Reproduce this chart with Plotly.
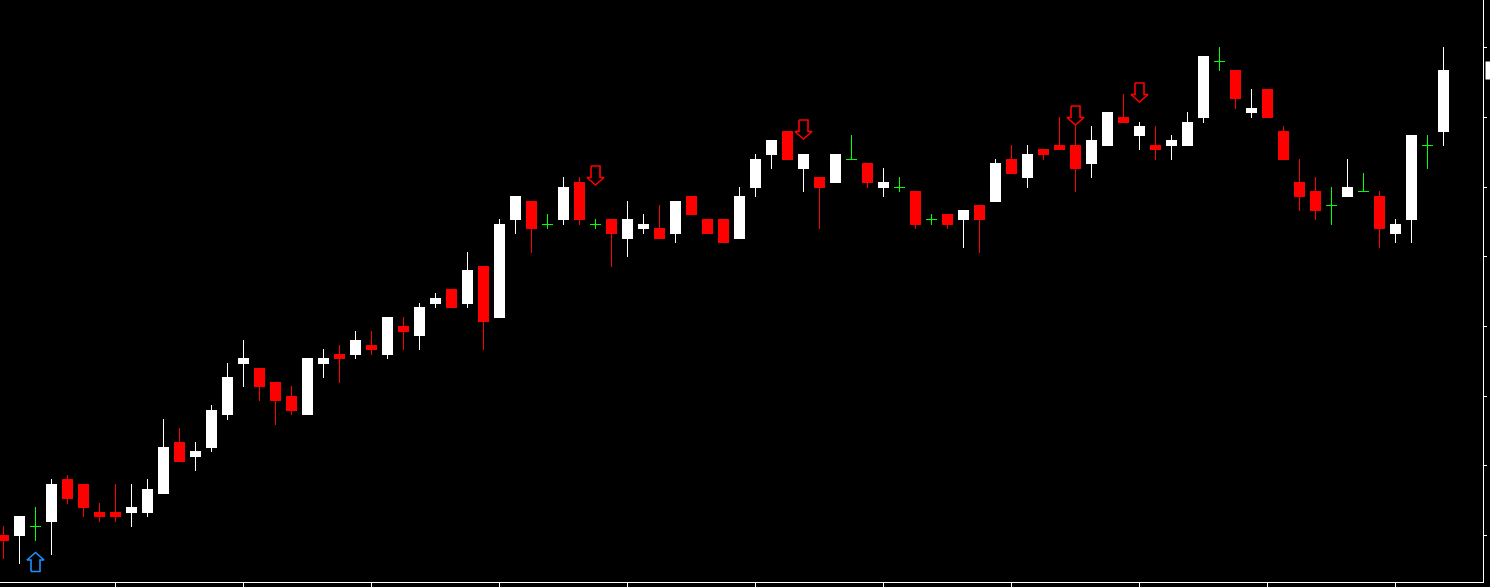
import plotly.graph_objects as go

# ---- data (OHLC per bar) ----
opens = [1.2047, 1.2046, 1.2056, 1.2060, 1.2103, 1.2098, 1.2070, 1.2070, 1.2069, 1.2069,
         1.2088, 1.2140, 1.2125, 1.2134, 1.2167, 1.2218, 1.2214, 1.2200, 1.2186, 1.2167,
         1.2218, 1.2228, 1.2227, 1.2237, 1.2227, 1.2256, 1.2246, 1.2278, 1.2293, 1.2278,
         1.2316, 1.2264, 1.2362, 1.2381, 1.2358, 1.2362, 1.2400, 1.2358, 1.2363, 1.2343,
         1.2353, 1.2354, 1.2348, 1.2386, 1.2363, 1.2363, 1.2343, 1.2394, 1.2427, 1.2451,
         1.2413, 1.2405, 1.2399, 1.2423, 1.2419, 1.2394, 1.2395, 1.2391, 1.2363, 1.2368,
         1.2362, 1.2377, 1.2380, 1.2423, 1.2404, 1.2433, 1.2437, 1.2437, 1.2418, 1.2436,
         1.2465, 1.2446, 1.2437, 1.2436, 1.2436, 1.2464, 1.2521, 1.2512, 1.2469, 1.2493,
         1.2451, 1.2400, 1.2391, 1.2377, 1.2385, 1.2391, 1.2386, 1.2348, 1.2362, 1.2437,
         1.2450]
highs = [1.2056, 1.2066, 1.2075, 1.2103, 1.2107, 1.2098, 1.2079, 1.2098, 1.2098, 1.2103,
         1.2163, 1.2154, 1.2140, 1.2177, 1.2219, 1.2242, 1.2214, 1.2200, 1.2196, 1.2224,
         1.2233, 1.2237, 1.2251, 1.2251, 1.2265, 1.2265, 1.2279, 1.2289, 1.2293, 1.2330,
         1.2316, 1.2363, 1.2386, 1.2381, 1.2368, 1.2405, 1.2405, 1.2363, 1.2363, 1.2381,
         1.2368, 1.2377, 1.2381, 1.2386, 1.2363, 1.2363, 1.2395, 1.2428, 1.2442, 1.2451,
         1.2428, 1.2405, 1.2428, 1.2447, 1.2419, 1.2414, 1.2405, 1.2391, 1.2368, 1.2368,
         1.2372, 1.2377, 1.2423, 1.2437, 1.2437, 1.2433, 1.2465, 1.2456, 1.2456, 1.2470,
         1.2488, 1.2460, 1.2456, 1.2447, 1.2470, 1.2526, 1.2535, 1.2512, 1.2493, 1.2493,
         1.2456, 1.2423, 1.2405, 1.2395, 1.2423, 1.2409, 1.2391, 1.2363, 1.2447, 1.2447,
         1.2535]
lows = [1.2023, 1.2018, 1.2041, 1.2027, 1.2078, 1.2065, 1.2060, 1.2060, 1.2055, 1.2065,
        1.2088, 1.2120, 1.2111, 1.2130, 1.2162, 1.2195, 1.2181, 1.2157, 1.2167, 1.2167,
        1.2204, 1.2199, 1.2223, 1.2227, 1.2223, 1.2232, 1.2232, 1.2274, 1.2274, 1.2274,
        1.2232, 1.2264, 1.2348, 1.2329, 1.2353, 1.2357, 1.2357, 1.2353, 1.2315, 1.2325,
        1.2348, 1.2343, 1.2339, 1.2367, 1.2348, 1.2339, 1.2343, 1.2385, 1.2413, 1.2422,
        1.2390, 1.2353, 1.2399, 1.2423, 1.2394, 1.2385, 1.2390, 1.2353, 1.2357, 1.2353,
        1.2334, 1.2329, 1.2380, 1.2408, 1.2394, 1.2422, 1.2432, 1.2390, 1.2404, 1.2436,
        1.2459, 1.2432, 1.2422, 1.2422, 1.2436, 1.2459, 1.2511, 1.2473, 1.2464, 1.2464,
        1.2422, 1.2371, 1.2362, 1.2357, 1.2385, 1.2391, 1.2334, 1.2339, 1.2339, 1.2413,
        1.2436]
closes = [1.2041, 1.2066, 1.2056, 1.2098, 1.2083, 1.2074, 1.2065, 1.2065, 1.2075, 1.2093,
          1.2135, 1.2120, 1.2131, 1.2172, 1.2205, 1.2224, 1.2195, 1.2181, 1.2171, 1.2224,
          1.2224, 1.2223, 1.2242, 1.2232, 1.2265, 1.2250, 1.2275, 1.2284, 1.2274, 1.2312,
          1.2260, 1.2358, 1.2386, 1.2353, 1.2358, 1.2395, 1.2362, 1.2358, 1.2348, 1.2363,
          1.2358, 1.2343, 1.2381, 1.2367, 1.2348, 1.2339, 1.2386, 1.2423, 1.2442, 1.2422,
          1.2428, 1.2394, 1.2428, 1.2423, 1.2399, 1.2400, 1.2395, 1.2357, 1.2363, 1.2357,
          1.2372, 1.2362, 1.2419, 1.2408, 1.2428, 1.2427, 1.2432, 1.2413, 1.2442, 1.2470,
          1.2459, 1.2456, 1.2432, 1.2442, 1.2460, 1.2526, 1.2521, 1.2483, 1.2474, 1.2464,
          1.2422, 1.2385, 1.2371, 1.2377, 1.2395, 1.2391, 1.2353, 1.2358, 1.2447, 1.2437,
          1.2512]

# signal arrows (bar index, price level of arrow centre)
buy_idx = [2]
buy_price = [1.2020]
sell_idx = [37, 50, 67, 71]
sell_price = [1.24065, 1.24525, 1.24665, 1.24895]

# ---- layout / styles ----
W, H = 1490, 587
M_L, M_R, M_T, M_B = 0, 7, 0, 5
PLOT_W, PLOT_H = W - M_L - M_R, H - M_T - M_B
X_RANGE = [-0.21875, -0.21875 + PLOT_W / 16]
Y_RANGE = [1.2000, 1.2582]
PX_X = (X_RANGE[1] - X_RANGE[0]) / PLOT_W   # data units per pixel
PX_Y = (Y_RANGE[1] - Y_RANGE[0]) / PLOT_H

UP_COL = "#FFFFFF"
DN_COL = "#FF0000"
DOJI_COL = "#00FF00"
BUY_COL = "#1E90FF"
SELL_COL = "#FF0000"
BODY_W = 0.6875

# hollow arrow outline in pixels (x right, y down), for a downward arrow
ARROW_SHAPE = [(-4.5, -9.5), (4.5, -9.5), (4.5, 2), (8.5, 2), (0, 9.5),
               (-8.5, 2), (-4.5, 2), (-4.5, -9.5)]

n = len(opens)
idx = list(range(n))

body_x, body_base, body_h, body_col = [], [], [], []
wick = {UP_COL: ([], []), DN_COL: ([], []), DOJI_COL: ([], [])}
doji_x, doji_y = [], []
for i, o, h, l, c in zip(idx, opens, highs, lows, closes):
    if c > o:
        col = UP_COL
    elif c < o:
        col = DN_COL
    else:
        col = DOJI_COL
    wx, wy = wick[col]
    wx += [i, i, None]
    wy += [l, h, None]
    if col == DOJI_COL:
        yy = o - 0.5 * PX_Y   # centre the 1px cross line on a pixel row
        doji_x += [i - BODY_W / 2, i + BODY_W / 2, None]
        doji_y += [yy, yy, None]
    else:
        body_x.append(i)
        body_base.append(min(o, c))
        body_h.append(abs(c - o))
        body_col.append(col)


def arrow_path(xs, ys, down):
    px, py = [], []
    sgn = 1 if down else -1
    for xc, yc in zip(xs, ys):
        for dx, dy in ARROW_SHAPE:
            px.append(xc + dx * PX_X)
            py.append(yc - sgn * dy * PX_Y)
        px.append(None)
        py.append(None)
    return px, py


fig = go.Figure()
fig.add_trace(go.Bar(x=body_x, y=body_h, base=body_base, width=BODY_W,
                     marker=dict(color=body_col, line=dict(width=0)),
                     hoverinfo="skip", showlegend=False))
for col, (wx, wy) in wick.items():
    fig.add_trace(go.Scatter(x=wx, y=wy, mode="lines",
                             line=dict(color=col, width=1),
                             hoverinfo="skip", showlegend=False))
fig.add_trace(go.Scatter(x=doji_x, y=doji_y, mode="lines",
                         line=dict(color=DOJI_COL, width=1),
                         hoverinfo="skip", showlegend=False))

bx, by = arrow_path(buy_idx, buy_price, down=False)
fig.add_trace(go.Scatter(x=bx, y=by, mode="lines", line=dict(color=BUY_COL, width=1.6),
                         hoverinfo="skip", showlegend=False))
sx, sy = arrow_path(sell_idx, sell_price, down=True)
fig.add_trace(go.Scatter(x=sx, y=sy, mode="lines", line=dict(color=SELL_COL, width=1.6),
                         hoverinfo="skip", showlegend=False))

# current price label at the right edge (mostly beyond the window, as in the reference)
fig.add_annotation(x=1, xref="paper", xanchor="left", xshift=2,
                   y=closes[-1], yref="y", yanchor="middle",
                   text="\u00a0\u00a0" + f"{closes[-1]:.4f}", showarrow=False,
                   font=dict(family="DejaVu Sans", size=11, color="#000000"),
                   bgcolor="#FFFFFF", borderpad=2)

fig.update_layout(
    width=W, height=H,
    margin=dict(l=M_L, r=M_R, t=M_T, b=M_B, autoexpand=False),
    paper_bgcolor="#000000", plot_bgcolor="#000000",
    showlegend=False, bargap=0,
    xaxis=dict(range=X_RANGE, showgrid=False, zeroline=False,
               showline=True, linecolor="#FFFFFF", linewidth=1,
               ticks="outside", ticklen=4, tickwidth=1, tickcolor="#FFFFFF",
               tickmode="linear", tick0=7, dtick=8, showticklabels=False),
    yaxis=dict(range=Y_RANGE, side="right", showgrid=False, zeroline=False,
               showline=True, linecolor="#FFFFFF", linewidth=1,
               ticks="outside", ticklen=3, tickwidth=1, tickcolor="#FFFFFF",
               tickmode="linear", tick0=1.20465, dtick=0.00697, showticklabels=False),
)

fig.write_html("out.html",
               config={"displayModeBar": False},
               post_script="document.body.style.margin='0';"
                           "document.body.style.background='#000000';")
